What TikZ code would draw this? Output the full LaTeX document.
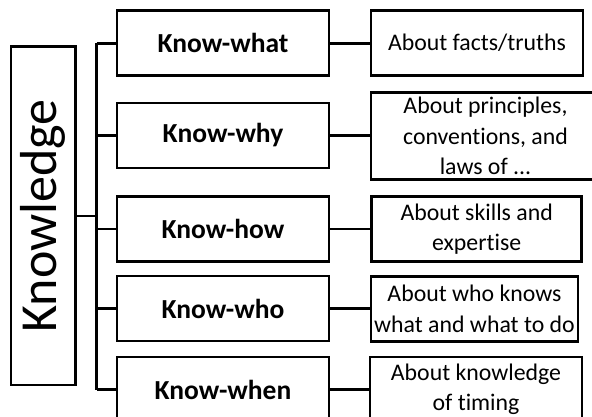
\documentclass[tikz,border=0pt]{standalone}
\usepackage{fontspec}
\setmainfont{Carlito}[RawFeature={-liga}]
\begin{document}
\begin{tikzpicture}[x=1pt,y=-1pt,
  box/.style={draw,line width=2.7pt,inner sep=0pt,anchor=center},
  link/.style={line width=2.5pt},
  midbox/.style={box,minimum width=212pt,minimum height=65pt,
    font=\fontsize{27.5}{30}\selectfont\bfseries},
  rightbox/.style={box,minimum height=65pt,align=center,
    font=\fontsize{23.8}{30.5}\selectfont}]
\clip (0,0) rectangle (592,417);

% root
\node[box,minimum width=64.7pt,minimum height=338.3pt,
  font=\fontsize{52}{60}\selectfont] (k) at (43.3,215.8) {\rotatebox{90}{Knowledge}};

% middle column
\node[midbox] (m1) at (223,43.3)  {Know-what};
\node[midbox] (m2) at (223,135.5) {Know-why};
\node[midbox] (m3) at (223,229)   {Know-how};
\node[midbox] (m4) at (223,308.5) {Know-who};
\node[midbox] (m5) at (223,389.5) {Know-when};

% right column
\node[rightbox,minimum width=212pt] (r1) at (477,43)    {About facts/truths};
\node[rightbox,minimum width=229pt,minimum height=86.6pt] (r2) at (485.5,136)
  {About principles,\\conventions, and\\laws of ...};
\node[rightbox,minimum width=210pt] (r3) at (476.7,229) {About skills and\\expertise};
\node[rightbox,minimum width=207pt] (r4) at (474.5,309) {About who knows\\what and what to do};
\node[rightbox,minimum width=212pt] (r5) at (476,389.5) {About knowledge\\of timing};

% trunk
\coordinate (ttop) at (96.7,43.3);
\coordinate (tbot) at (96.7,389.5);
\draw[link] (ttop) -- (tbot);
\draw[link] (k.east) -- (k.east -| ttop);
\foreach \i in {1,...,5}{
  \draw[link] (m\i.west -| ttop) -- (m\i.west);
  \draw[link] (m\i.east) -- (m\i.east -| r\i.west);
}
\end{tikzpicture}
\end{document}
